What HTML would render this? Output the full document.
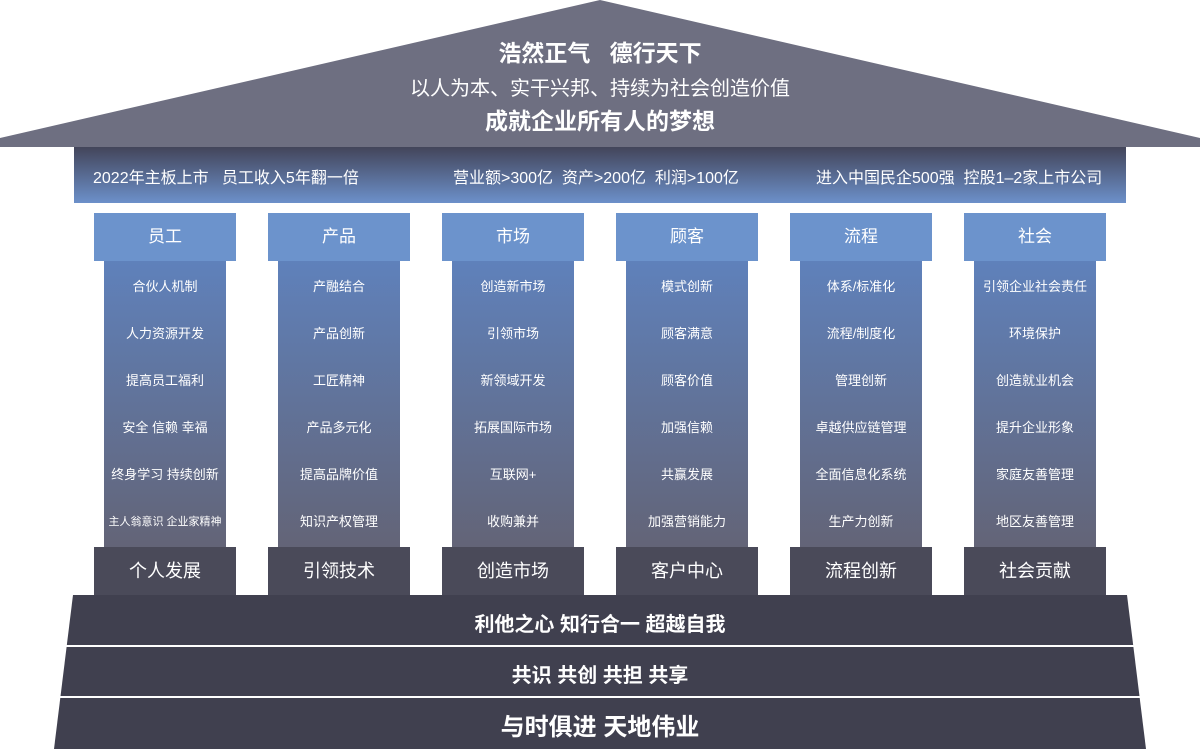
<!DOCTYPE html>
<html><head><meta charset="utf-8"><style>
body{margin:0;width:1200px;height:749px;position:relative;overflow:hidden;background:#fff;font-family:"Liberation Sans","Noto Sans CJK SC",sans-serif;color:#fff}
.a{position:absolute}
.t{position:absolute;text-align:center;white-space:nowrap}
.hd{position:absolute;top:213px;width:142px;height:48px;background:#6c93cc;font-size:17px;line-height:48px;text-align:center}
.sh{position:absolute;top:261px;width:122px;height:286px;background:linear-gradient(#5f81bb,#636477)}
.sh div{height:47px;line-height:52px;font-size:13px;text-align:center;white-space:nowrap}
.bs{position:absolute;top:547px;width:142px;height:48px;background:#4a4a59;font-size:18px;line-height:48px;text-align:center}
</style></head><body>
<svg class="a" style="left:0;top:0" width="1200" height="749">
<polygon points="600,0 1200,138 1200,147 0,147 0,138" fill="#6e6f81"/>
<defs><linearGradient id="g" x1="0" y1="0" x2="0" y2="1"><stop offset="0" stop-color="#43455a"/><stop offset="1" stop-color="#6c90ca"/></linearGradient></defs>
<rect x="74" y="147" width="1052" height="56" fill="url(#g)"/>
<polygon points="73,595 1127,595 1146,749 54,749" fill="#40404f"/>
<rect x="0" y="645" width="1200" height="2" fill="#fff"/>
<rect x="0" y="696" width="1200" height="2" fill="#fff"/>
</svg>
<div class="t" style="left:0;width:1200px;top:34px;font-size:23px;font-weight:bold">浩然正气&nbsp;&nbsp;&nbsp;德行天下</div>
<div class="t" style="left:0;width:1200px;top:72px;font-size:20px">以人为本、实干兴邦、持续为社会创造价值</div>
<div class="t" style="left:0;width:1200px;top:102px;font-size:23px;font-weight:bold">成就企业所有人的梦想</div>
<div class="a" style="left:93px;top:164px;font-size:16px;white-space:pre">2022年主板上市   员工收入5年翻一倍</div>
<div class="a" style="left:453px;top:164px;font-size:16px;white-space:pre">营业额&gt;300亿  资产&gt;200亿  利润&gt;100亿</div>
<div class="a" style="left:816px;top:164px;font-size:16px;white-space:pre">进入中国民企500强  控股1–2家上市公司</div>

<div class="hd" style="left:94px">员工</div><div class="sh" style="left:104px"><div>合伙人机制</div><div>人力资源开发</div><div>提高员工福利</div><div>安全 信赖 幸福</div><div>终身学习 持续创新</div><div style="font-size:11px">主人翁意识 企业家精神</div></div><div class="bs" style="left:94px">个人发展</div>
<div class="hd" style="left:268px">产品</div><div class="sh" style="left:278px"><div>产融结合</div><div>产品创新</div><div>工匠精神</div><div>产品多元化</div><div>提高品牌价值</div><div>知识产权管理</div></div><div class="bs" style="left:268px">引领技术</div>
<div class="hd" style="left:442px">市场</div><div class="sh" style="left:452px"><div>创造新市场</div><div>引领市场</div><div>新领域开发</div><div>拓展国际市场</div><div>互联网+</div><div>收购兼并</div></div><div class="bs" style="left:442px">创造市场</div>
<div class="hd" style="left:616px">顾客</div><div class="sh" style="left:626px"><div>模式创新</div><div>顾客满意</div><div>顾客价值</div><div>加强信赖</div><div>共赢发展</div><div>加强营销能力</div></div><div class="bs" style="left:616px">客户中心</div>
<div class="hd" style="left:790px">流程</div><div class="sh" style="left:800px"><div>体系/标准化</div><div>流程/制度化</div><div>管理创新</div><div>卓越供应链管理</div><div>全面信息化系统</div><div>生产力创新</div></div><div class="bs" style="left:790px">流程创新</div>
<div class="hd" style="left:964px">社会</div><div class="sh" style="left:974px"><div>引领企业社会责任</div><div>环境保护</div><div>创造就业机会</div><div>提升企业形象</div><div>家庭友善管理</div><div>地区友善管理</div></div><div class="bs" style="left:964px">社会贡献</div>

<div class="t" style="left:0;width:1200px;top:608px;font-size:20px;font-weight:bold">利他之心 知行合一 超越自我</div>
<div class="t" style="left:0;width:1200px;top:659px;font-size:20px;font-weight:bold">共识 共创 共担 共享</div>
<div class="t" style="left:0;width:1200px;top:707px;font-size:24px;font-weight:bold">与时俱进 天地伟业</div>
</body></html>
